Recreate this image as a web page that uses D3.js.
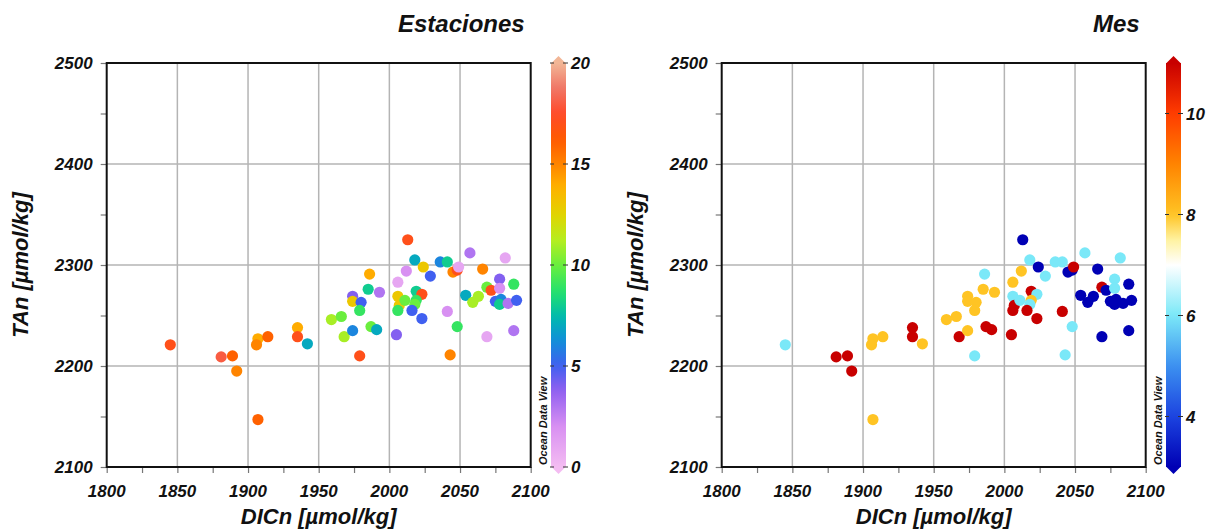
<!DOCTYPE html>
<html>
<head>
<meta charset="utf-8">
<script src="https://cdn.jsdelivr.net/npm/d3@7"></script>
<style>
  html, body { margin: 0; padding: 0; background: #fff; }
  svg { display: block; font-family: "Liberation Sans", Arial, sans-serif; }
</style>
</head>
<body>
<svg id="chart" width="1212" height="531"></svg>
<script>
// Normalised carbonate samples: DICn, TAn, station number and month of sampling
const dicn = [1845, 1881, 1889, 1892, 1907, 1907, 1906, 1914, 1935, 1935, 1942,
  1959, 1966, 1968, 1974, 1979, 1974, 1974, 1980, 1979, 1985, 1986, 1987, 1991, 1993,
  2005, 2006, 2006, 2007, 2006, 2011, 2012, 2013, 2018, 2024, 2029, 2019, 2023, 2019,
  2018, 2016, 2023, 2036, 2041, 2041, 2043, 2045, 2048, 2049, 2048, 2057, 2066, 2054,
  2059, 2063, 2069, 2069, 2072, 2078, 2078, 2082, 2088, 2075, 2079, 2078, 2084, 2090, 2088];
const tan = [2221, 2209, 2210, 2195, 2147, 2227, 2221, 2229, 2238, 2229, 2222,
  2246, 2249, 2229, 2235, 2210, 2269, 2264, 2263, 2255, 2276, 2291, 2239, 2236, 2273,
  2231, 2283, 2269, 2260, 2255, 2265, 2294, 2325, 2305, 2298, 2289, 2274, 2271, 2265,
  2261, 2255, 2247, 2303, 2303, 2254, 2211, 2293, 2295, 2298, 2239, 2312, 2296, 2270,
  2263, 2269, 2229, 2278, 2275, 2286, 2277, 2307, 2281, 2264, 2266, 2261, 2262, 2265, 2235];
const station = [17, 18, 16, 15, 16, 14, 15, 16, 14, 17, 7,
  11, 10, 11, 6, 17, 4, 13, 5, 9, 8, 14, 10, 7, 3,
  4, 1, 13, 13, 9, 10, 2, 17, 7, 13, 5, 8, 17, 9,
  10, 5, 5, 6, 8, 2, 15, 15, 17, 1, 9, 3, 15, 7,
  11, 11, 1, 10, 17, 4, 2, 1, 9, 5, 6, 8, 3, 5, 3];
const month = [6, 11, 11, 11, 8, 8, 8, 8, 11, 11, 8,
  8, 8, 11, 8, 6, 8, 8, 8, 8, 8, 6, 11, 11, 8,
  11, 8, 6, 11, 11, 6, 8, 3, 6, 3, 6, 11, 6, 8,
  6, 11, 11, 6, 6, 11, 6, 3, 3, 11, 6, 6, 3, 3,
  3, 3, 3, 11, 3, 6, 6, 6, 3, 3, 3, 3, 3, 3, 3];

// Axis ticks and colour bar ticks
const xTicks = [1800, 1850, 1900, 1950, 2000, 2050, 2100];
const yTicks = [2100, 2200, 2300, 2400, 2500];
const stationTicks = [0, 5, 10, 15, 20];
const monthTicks = [4, 6, 8, 10];

// Colour ramps (value stops)
const stationStops = [
  [0, "#f4bcf2"], [2, "#d890f2"], [3.8, "#9060f0"], [5, "#4060f0"], [6.3, "#1090d8"],
  [7.4, "#00b8b0"], [8.6, "#20e070"], [9.9, "#64ee40"], [11.2, "#b4ee20"], [12.5, "#e2d400"],
  [13.9, "#ffb000"], [15, "#ff8400"], [16.2, "#ff5a00"], [17.5, "#ff4a2a"], [18.7, "#f07464"],
  [20, "#f2b696"]];
const monthStops = [
  [3, "#0000b4"], [4, "#1c44e0"], [5, "#3c90f0"], [6, "#7ae8f8"], [7, "#ffffff"],
  [7.5, "#fff2a0"], [8, "#ffc424"], [9, "#ff8400"], [10, "#ff3c00"], [11, "#c80000"]];

const data = dicn.map((d, i) => ({dic: d, ta: tan[i], st: station[i], mo: month[i]}));

const svg = d3.select("#chart");
const defs = svg.append("defs");
const fontTick = "bold italic 17px 'Liberation Sans', Arial, sans-serif";

const plotTop = 63, plotBottom = 467;

function makeScale(stops) {
  return d3.scaleLinear().domain(stops.map(s => s[0])).range(stops.map(s => s[1]))
    .interpolate(d3.interpolateRgb).clamp(true);
}

function panel(cfg) {
  const x = d3.scaleLinear().domain([1800, 2100]).range([cfg.left, cfg.left + 424]);
  const y = d3.scaleLinear().domain([2100, 2500]).range([plotBottom, plotTop]);
  const color = makeScale(cfg.stops);
  const g = svg.append("g");

  // grid
  g.append("g").selectAll("line").data(xTicks.slice(1, -1)).join("line")
    .attr("x1", d => x(d)).attr("x2", d => x(d)).attr("y1", plotTop).attr("y2", plotBottom)
    .attr("stroke", "#b4b4b4").attr("stroke-width", 1.5);
  g.append("g").selectAll("line").data(yTicks.slice(1, -1)).join("line")
    .attr("y1", d => y(d)).attr("y2", d => y(d)).attr("x1", x(1800)).attr("x2", x(2100))
    .attr("stroke", "#b4b4b4").attr("stroke-width", 1.5);

  // axes with minor ticks
  const xAxis = d3.axisBottom(x).tickValues(d3.range(1800, 2101, 25)).tickSize(6).tickFormat(() => "");
  const yAxis = d3.axisLeft(y).tickValues(d3.range(2100, 2501, 50)).tickSize(6).tickFormat(() => "");
  const gx = g.append("g").attr("transform", `translate(0,${plotBottom})`).call(xAxis);
  const gy = g.append("g").attr("transform", `translate(${x(1800)},0)`).call(yAxis);
  [gx, gy].forEach(a => {
    a.select(".domain").remove();
    a.selectAll("line").attr("stroke", "#777").attr("stroke-width", 1.2);
  });

  g.append("g").selectAll("text").data(xTicks).join("text")
    .attr("x", d => x(d)).attr("y", plotBottom + 30).attr("text-anchor", "middle")
    .style("font", fontTick).attr("fill", "#111").text(d => d);
  g.append("g").selectAll("text").data(yTicks).join("text")
    .attr("x", x(1800) - 14).attr("y", d => y(d) + 6).attr("text-anchor", "end")
    .style("font", fontTick).attr("fill", "#111").text(d => d);

  // frame
  g.append("rect").attr("x", x(1800)).attr("y", plotTop).attr("width", x(2100) - x(1800))
    .attr("height", plotBottom - plotTop).attr("fill", "none").attr("stroke", "#111").attr("stroke-width", 2);

  // points
  g.append("g").selectAll("circle").data(data).join("circle")
    .attr("cx", d => x(d.dic)).attr("cy", d => y(d.ta)).attr("r", 5.6)
    .attr("fill", d => color(cfg.key(d)));

  // axis titles
  g.append("text").attr("x", (x(1800) + x(2100)) / 2).attr("y", plotBottom + 57)
    .attr("text-anchor", "middle").style("font", "bold italic 22px 'Liberation Sans', Arial, sans-serif")
    .attr("fill", "#111").text("DICn [µmol/kg]");
  g.append("text").attr("transform", `translate(${cfg.left - 79},${(plotTop + plotBottom) / 2}) rotate(-90)`)
    .attr("text-anchor", "middle").style("font", "bold italic 22px 'Liberation Sans', Arial, sans-serif")
    .attr("fill", "#111").text("TAn [µmol/kg]");

  // title
  g.append("text").attr("x", x(2100) - 6).attr("y", 32).attr("text-anchor", "end")
    .style("font", "bold italic 24px 'Liberation Sans', Arial, sans-serif")
    .attr("fill", "#111").text(cfg.title);

  // colour bar
  const cb = d3.scaleLinear().domain(cfg.cbDomain).range([plotBottom, plotTop]);
  const bx = cfg.barX, bw = 15;
  const gid = "grad" + cfg.id;
  const grad = defs.append("linearGradient").attr("id", gid)
    .attr("x1", 0).attr("x2", 0).attr("y1", 1).attr("y2", 0);
  const [d0, d1] = cfg.cbDomain;
  d3.range(0, 1.0001, 0.02).forEach(t => {
    grad.append("stop").attr("offset", t).attr("stop-color", color(d0 + t * (d1 - d0)));
  });
  const cg = svg.append("g");
  cg.append("rect").attr("x", bx).attr("y", cb(d1)).attr("width", bw)
    .attr("height", cb(d0) - cb(d1)).attr("fill", `url(#${gid})`);
  cg.append("path").attr("d", `M${bx},${cb(d1) + 0.5} L${bx + bw / 2},${cb(d1) - 7} L${bx + bw},${cb(d1) + 0.5} Z`)
    .attr("fill", color(d1));
  cg.append("path").attr("d", `M${bx},${cb(d0) - 0.5} L${bx + bw / 2},${cb(d0) + 7} L${bx + bw},${cb(d0) - 0.5} Z`)
    .attr("fill", color(d0));
  cg.selectAll("g.tk").data(cfg.cbTicks).join("g").attr("class", "tk").each(function (d) {
    const s = d3.select(this);
    s.append("line").attr("x1", bx - 1).attr("x2", bx + 3).attr("y1", cb(d)).attr("y2", cb(d))
      .attr("stroke", "#333").attr("stroke-width", 1);
    s.append("line").attr("x1", bx + bw - 3).attr("x2", bx + bw + 2).attr("y1", cb(d)).attr("y2", cb(d))
      .attr("stroke", "#333").attr("stroke-width", 1);
    s.append("text").attr("x", bx + bw + 5).attr("y", cb(d) + 6)
      .style("font", fontTick).attr("fill", "#111").text(d);
  });
  cg.append("text").attr("transform", `translate(${bx - 4},${plotBottom - 2}) rotate(-90)`)
    .style("font", "bold italic 11px 'Liberation Sans', Arial, sans-serif")
    .attr("fill", "#111").text("Ocean Data View");
}

panel({id: "st", left: 106.7, stops: stationStops, key: d => d.st, title: "Estaciones",
  cbDomain: [0, 20], cbTicks: stationTicks, barX: 551});
panel({id: "mo", left: 721.7, stops: monthStops, key: d => d.mo, title: "Mes",
  cbDomain: [3, 11], cbTicks: monthTicks, barX: 1166});
</script>
</body>
</html>
